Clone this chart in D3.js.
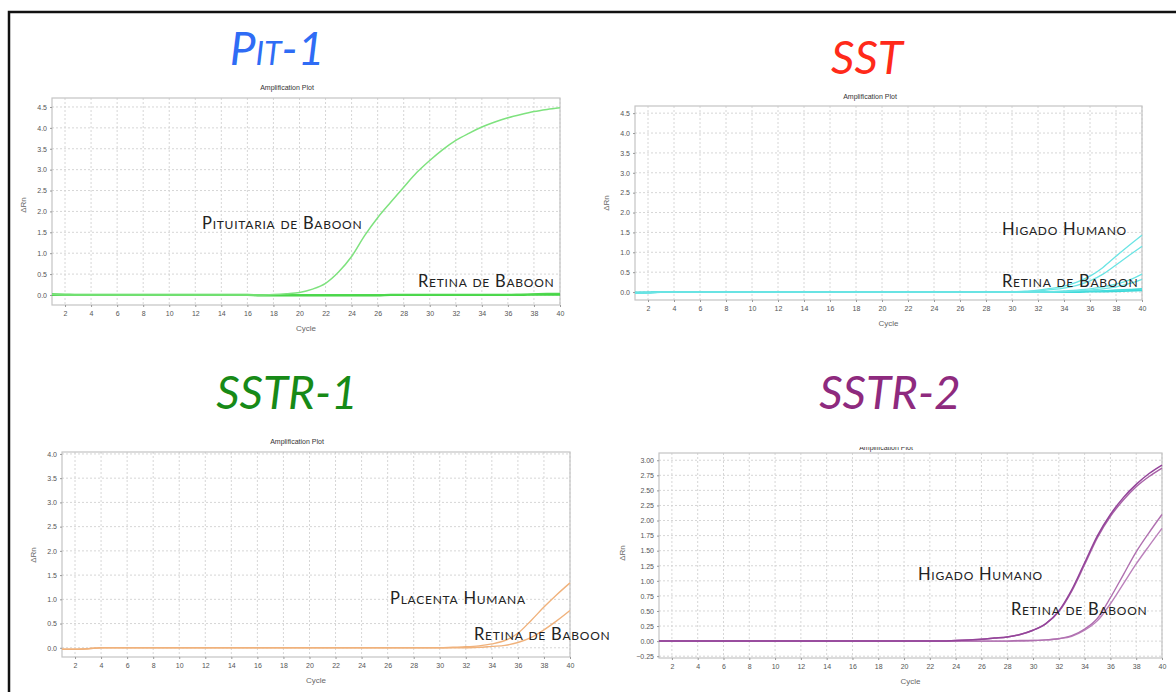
<!DOCTYPE html>
<html>
<head>
<meta charset="utf-8">
<script src="https://cdn.jsdelivr.net/npm/d3@7"></script>
<style>
  html, body { margin: 0; padding: 0; background: #fff; }
  svg { display: block; }
  .tick-label { font-family: "Liberation Sans", Arial, sans-serif; font-size: 7px; fill: #555; }
  .axis-title { font-family: "Liberation Sans", Arial, sans-serif; font-size: 8px; fill: #666; }
  .plot-title { font-family: "Liberation Sans", Arial, sans-serif; font-size: 7px; fill: #333; }
  .gene { font-family: Lato, "Open Sans", sans-serif; font-style: italic; font-size: 46px; }
  .tissue { font-family: Lato, "Open Sans", sans-serif; font-variant: small-caps; font-size: 16.5px; fill: #222; letter-spacing: 0.75px; }
</style>
</head>
<body>
<svg id="chart" width="1176" height="692"></svg>
<script>
// PCR cycle numbers (x values shared by every run)
const cycles = [1,2,3,4,5,6,7,8,9,10,11,12,13,14,15,16,17,18,19,20,
                21,22,23,24,25,26,27,28,29,30,31,32,33,34,35,36,37,38,39,40];
const cycleTicks = [2,4,6,8,10,12,14,16,18,20,22,24,26,28,30,32,34,36,38,40];

// ΔRn tick values per panel
const pit1Ticks  = [0.0,0.5,1.0,1.5,2.0,2.5,3.0,3.5,4.0,4.5];
const sstTicks   = [0.0,0.5,1.0,1.5,2.0,2.5,3.0,3.5,4.0,4.5];
const sstr1Ticks = [0.0,0.5,1.0,1.5,2.0,2.5,3.0,3.5,4.0];
const sstr2Ticks = [-0.25,0.00,0.25,0.50,0.75,1.00,1.25,1.50,1.75,2.00,2.25,2.50,2.75,3.00];

// Pit-1 amplification (ΔRn per cycle)
const pit1Pituitaria = [0.01,0.00,0.00,0.00,0.00,0.00,0.00,0.00,0.00,0.00,
                        0.00,0.00,0.00,0.00,0.00,0.00,0.00,0.01,0.03,0.06,
                        0.14,0.28,0.55,0.92,1.42,1.85,2.22,2.58,2.93,3.22,
                        3.48,3.70,3.87,4.02,4.14,4.24,4.32,4.39,4.44,4.48];
const pit1RetinaA    = [0.02,0.01,0.00,0.00,0.00,0.00,0.00,0.00,0.00,0.00,
                        0.00,0.00,0.00,0.00,0.00,0.00,0.00,0.00,0.00,0.00,
                        0.00,0.00,0.00,0.00,0.00,0.00,0.00,0.00,0.00,0.00,
                        0.00,0.00,0.00,0.00,0.00,0.00,0.01,0.02,0.03,0.03];
const pit1RetinaB    = [0.00,0.00,0.00,0.00,0.00,0.00,0.00,0.00,0.00,0.00,
                        0.00,0.00,0.00,0.00,0.00,0.00,-0.01,-0.01,-0.01,-0.01,
                        -0.01,-0.01,-0.01,-0.01,-0.01,-0.01,0.00,0.00,0.00,0.00,
                        0.00,0.00,0.00,0.00,0.00,0.00,0.00,0.01,0.01,0.01];

// SST amplification
const sstHigadoA = [-0.03,-0.02,0.00,0.00,0.00,0.00,0.00,0.00,0.00,0.00,
                    0.00,0.00,0.00,0.00,0.00,0.00,0.00,0.00,0.00,0.00,
                    0.00,0.00,0.00,0.00,0.00,0.00,0.00,0.00,0.00,0.01,
                    0.02,0.05,0.09,0.15,0.25,0.40,0.62,0.90,1.17,1.43];
const sstHigadoB = [-0.03,-0.02,0.00,0.00,0.00,0.00,0.00,0.00,0.00,0.00,
                    0.00,0.00,0.00,0.00,0.00,0.00,0.00,0.00,0.00,0.00,
                    0.00,0.00,0.00,0.00,0.00,0.00,0.00,0.00,0.00,0.00,
                    0.01,0.03,0.06,0.10,0.17,0.28,0.45,0.68,0.92,1.15];
const sstRetinaA = [-0.02,-0.02,0.00,0.00,0.00,0.00,0.00,0.00,0.00,0.00,
                    0.00,0.00,0.00,0.00,0.00,0.00,0.00,0.00,0.00,0.00,
                    0.00,0.00,0.00,0.00,0.00,0.00,0.00,0.00,0.00,0.00,
                    0.00,0.00,0.01,0.03,0.05,0.08,0.13,0.20,0.30,0.45];
const sstRetinaB = [-0.02,-0.01,0.00,0.00,0.00,0.00,0.00,0.00,0.00,0.00,
                    0.00,0.00,0.00,0.00,0.00,0.00,0.00,0.00,0.00,0.00,
                    0.00,0.00,0.00,0.00,0.00,0.00,0.00,0.00,0.00,0.00,
                    0.00,0.00,0.00,0.01,0.03,0.05,0.08,0.13,0.21,0.32];
const sstRetinaC = [-0.02,-0.01,0.00,0.00,0.00,0.00,0.00,0.00,0.00,0.00,
                    0.00,0.00,0.00,0.00,0.00,0.00,0.00,0.00,0.00,0.00,
                    0.00,0.00,0.00,0.00,0.00,0.00,0.00,0.00,0.00,0.00,
                    0.00,0.00,0.00,0.00,0.01,0.02,0.03,0.05,0.06,0.08];
const sstRetinaD = [-0.01,-0.01,0.00,0.00,0.00,0.00,0.00,0.00,0.00,0.00,
                    0.00,0.00,0.00,0.00,0.00,0.00,0.00,0.00,0.00,0.00,
                    0.00,0.00,0.00,0.00,0.00,0.00,0.00,0.00,0.00,0.00,
                    0.00,0.00,0.00,0.00,0.00,0.01,0.01,0.02,0.03,0.04];

// SSTR-1 amplification
const sstr1Placenta = [-0.03,-0.03,-0.02,0.00,0.00,0.00,0.00,0.00,0.00,0.00,
                       0.00,0.00,0.00,0.00,0.00,0.00,0.00,0.00,0.00,0.00,
                       0.00,0.00,0.00,0.00,0.00,0.00,0.00,0.00,0.00,0.00,
                       0.01,0.02,0.04,0.08,0.15,0.30,0.56,0.84,1.10,1.34];
const sstr1Retina   = [-0.03,-0.03,-0.02,0.00,0.00,0.00,0.00,0.00,0.00,0.00,
                       0.00,0.00,0.00,0.00,0.00,0.00,0.00,0.00,0.00,0.00,
                       0.00,0.00,0.00,0.00,0.00,0.00,0.00,0.00,0.00,0.00,
                       0.00,0.00,0.01,0.03,0.05,0.11,0.21,0.37,0.56,0.77];

// SSTR-2 amplification
const sstr2HigadoA = [0.00,0.00,0.00,0.00,0.00,0.00,0.00,0.00,0.00,0.00,
                      0.00,0.00,0.00,0.00,0.00,0.00,0.00,0.00,0.00,0.00,
                      0.00,0.00,0.00,0.01,0.02,0.03,0.05,0.07,0.11,0.18,
                      0.29,0.50,0.85,1.30,1.75,2.10,2.38,2.60,2.78,2.92];
const sstr2HigadoB = [0.00,0.00,0.00,0.00,0.00,0.00,0.00,0.00,0.00,0.00,
                      0.00,0.00,0.00,0.00,0.00,0.00,0.00,0.00,0.00,0.00,
                      0.00,0.00,0.00,0.01,0.02,0.03,0.05,0.07,0.11,0.18,
                      0.29,0.49,0.83,1.27,1.72,2.07,2.34,2.56,2.73,2.87];
const sstr2RetinaA = [0.00,0.00,0.00,0.00,0.00,0.00,0.00,0.00,0.00,0.00,
                      0.00,0.00,0.00,0.00,0.00,0.00,0.00,0.00,0.00,0.00,
                      0.00,0.00,0.00,0.00,0.00,0.00,0.00,0.00,0.01,0.01,
                      0.02,0.04,0.09,0.20,0.38,0.72,1.10,1.48,1.80,2.10];
const sstr2RetinaB = [0.00,0.00,0.00,0.00,0.00,0.00,0.00,0.00,0.00,0.00,
                      0.00,0.00,0.00,0.00,0.00,0.00,0.00,0.00,0.00,0.00,
                      0.00,0.00,0.00,0.00,0.00,0.00,0.00,0.00,0.00,0.01,
                      0.02,0.04,0.08,0.18,0.34,0.62,0.95,1.28,1.58,1.87];

// Panel layout: plot frame, value range and styling
const panels = [
  { gene: "Pit-1", geneColor: "#2f6cf5", geneX: 277, geneY: 65,
    frame: { l: 52, r: 560, t: 98, b: 305 }, yDomain: [-0.24, 4.715],
    yTicks: pit1Ticks, fmt: ".1f", plotTitle: { x: 287, y: 90 }, yTitle: { x: 26, y: 205 },
    series: [
      { v: pit1RetinaB, c: "#3fd23f", w: 2.2 },
      { v: pit1RetinaA, c: "#4fd84f", w: 1.8 },
      { v: pit1Pituitaria, c: "#7ee27e", w: 1.5 } ],
    labels: [ { t: "Pituitaria de Baboon", x: 202, y: 229 },
              { t: "Retina de Baboon", x: 418, y: 287 } ] },
  { gene: "SST", geneColor: "#ff2a1a", geneX: 867, geneY: 74,
    frame: { l: 635, r: 1142, t: 106, b: 300 }, yDomain: [-0.2, 4.68],
    yTicks: sstTicks, fmt: ".1f", plotTitle: { x: 870, y: 99 }, yTitle: { x: 609, y: 203 },
    series: [
      { v: sstRetinaD, c: "#3ad8d8", w: 1.8 },
      { v: sstRetinaC, c: "#45dcdc", w: 1.6 },
      { v: sstRetinaB, c: "#6ae4e4", w: 1.3 },
      { v: sstRetinaA, c: "#6ae4e4", w: 1.3 },
      { v: sstHigadoB, c: "#6ae4e4", w: 1.3 },
      { v: sstHigadoA, c: "#6ae4e4", w: 1.3 } ],
    labels: [ { t: "Higado Humano", x: 1002, y: 235 },
              { t: "Retina de Baboon", x: 1002, y: 287 } ] },
  { gene: "SSTR-1", geneColor: "#178a17", geneX: 287, geneY: 409,
    frame: { l: 62, r: 570, t: 452, b: 657 }, yDomain: [-0.19, 4.04],
    yTicks: sstr1Ticks, fmt: ".1f", plotTitle: { x: 297, y: 444 }, yTitle: { x: 36, y: 555 },
    series: [
      { v: sstr1Retina, c: "#f0b27c", w: 1.4 },
      { v: sstr1Placenta, c: "#f0b27c", w: 1.4 } ],
    labels: [ { t: "Placenta Humana", x: 390, y: 604 },
              { t: "Retina de Baboon", x: 474, y: 640 } ] },
  { gene: "SSTR-2", geneColor: "#8e2a7e", geneX: 890, geneY: 409,
    frame: { l: 659, r: 1162, t: 453, b: 658 }, yDomain: [-0.28, 3.12],
    yTicks: sstr2Ticks, fmt: ".2f", plotTitle: { x: 886, y: 450 }, yTitle: { x: 625, y: 553 },
    clipPlotTitle: true,
    series: [
      { v: sstr2RetinaB, c: "#bb80bb", w: 1.4 },
      { v: sstr2RetinaA, c: "#b070b0", w: 1.4 },
      { v: sstr2HigadoB, c: "#a862a8", w: 1.5 },
      { v: sstr2HigadoA, c: "#94449a", w: 1.5 } ],
    labels: [ { t: "Higado Humano", x: 918, y: 580 },
              { t: "Retina de Baboon", x: 1011, y: 615 } ] }
];

const svg = d3.select("#chart");
const defs = svg.append("defs");

panels.forEach((p, i) => {
  const f = p.frame;
  const x = d3.scaleLinear().domain([1, 40]).range([f.l, f.r]);
  const y = d3.scaleLinear().domain(p.yDomain).range([f.b, f.t]);
  const g = svg.append("g");

  // gene name above the plot
  const gene = g.append("text").attr("class", "gene")
    .attr("x", p.geneX).attr("y", p.geneY)
    .attr("text-anchor", "middle").attr("fill", p.geneColor)
    .text(p.gene);
  if (p.gene === "Pit-1") gene.style("font-variant", "small-caps");

  // "Amplification Plot" header
  const pt = g.append("text").attr("class", "plot-title")
    .attr("x", p.plotTitle.x).attr("y", p.plotTitle.y)
    .attr("text-anchor", "middle").text("Amplification Plot");
  if (p.clipPlotTitle) {
    defs.append("clipPath").attr("id", "ptclip" + i)
      .append("rect").attr("x", p.plotTitle.x - 60).attr("y", p.plotTitle.y - 3)
      .attr("width", 120).attr("height", 10);
    pt.attr("clip-path", `url(#ptclip${i})`);
  }

  // frame background
  g.append("rect").attr("x", f.l).attr("y", f.t)
    .attr("width", f.r - f.l).attr("height", f.b - f.t)
    .attr("fill", "#fff");

  // dotted grid
  g.append("g").selectAll("line").data(cycleTicks).join("line")
    .attr("x1", d => x(d)).attr("x2", d => x(d))
    .attr("y1", f.t).attr("y2", f.b)
    .attr("stroke", "#d6d6d6").attr("stroke-width", 1)
    .attr("stroke-dasharray", "2,2");
  g.append("g").selectAll("line").data(p.yTicks).join("line")
    .attr("x1", f.l).attr("x2", f.r)
    .attr("y1", d => y(d)).attr("y2", d => y(d))
    .attr("stroke", "#d6d6d6").attr("stroke-width", 1)
    .attr("stroke-dasharray", "2,2");

  // frame border
  g.append("rect").attr("x", f.l).attr("y", f.t)
    .attr("width", f.r - f.l).attr("height", f.b - f.t)
    .attr("fill", "none").attr("stroke", "#c4c4c4").attr("stroke-width", 1.2);

  // axes
  const xAxis = d3.axisBottom(x).tickValues(cycleTicks).tickSize(2).tickPadding(4);
  const yAxis = d3.axisLeft(y).tickValues(p.yTicks).tickSize(2).tickPadding(3)
    .tickFormat(d3.format(p.fmt));
  const gx = g.append("g").attr("transform", `translate(0,${f.b})`).call(xAxis);
  const gy = g.append("g").attr("transform", `translate(${f.l},0)`).call(yAxis);
  [gx, gy].forEach(a => {
    a.select(".domain").remove();
    a.selectAll(".tick line").attr("stroke", "#999");
    a.selectAll(".tick text").attr("class", "tick-label").attr("fill", null);
  });

  // axis titles
  g.append("text").attr("class", "axis-title")
    .attr("x", (f.l + f.r) / 2).attr("y", f.b + 26)
    .attr("text-anchor", "middle").text("Cycle");
  g.append("text").attr("class", "axis-title")
    .attr("transform", `translate(${p.yTitle.x},${p.yTitle.y}) rotate(-90)`)
    .attr("text-anchor", "middle").text("ΔRn");

  // amplification curves
  const line = d3.line()
    .x((d, k) => x(cycles[k]))
    .y(d => y(d))
    .curve(d3.curveMonotoneX);
  g.append("g").selectAll("path").data(p.series).join("path")
    .attr("d", s => line(s.v))
    .attr("fill", "none")
    .attr("stroke", s => s.c)
    .attr("stroke-width", s => s.w)
    .attr("stroke-linejoin", "round");

  // tissue annotations
  g.append("g").selectAll("text").data(p.labels).join("text")
    .attr("class", "tissue")
    .attr("x", d => d.x).attr("y", d => d.y)
    .text(d => d.t);
});

// outer frame
svg.append("rect").attr("x", 9).attr("y", 12)
  .attr("width", 1200).attr("height", 720)
  .attr("fill", "none").attr("stroke", "#111").attr("stroke-width", 2.5);
</script>
</body>
</html>
